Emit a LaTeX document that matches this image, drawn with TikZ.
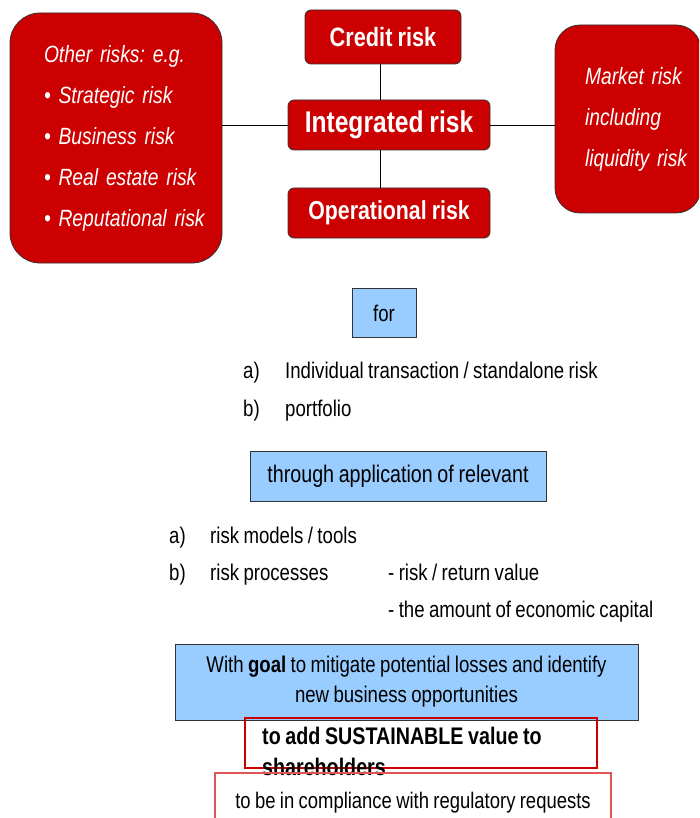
\documentclass[tikz,border=0pt]{standalone}
\usepackage{fontspec}
\setmainfont[FakeStretch=0.82, WordSpace=0.85]{Liberation Sans}
\definecolor{riskred}{HTML}{CC0000}
\definecolor{goalblue}{HTML}{99CCFF}
\definecolor{paleline}{HTML}{E05555}
\newcommand{\riskitalic}{\itshape\fontsize{23.5}{41}\selectfont\spaceskip 4.5pt\relax}
\frenchspacing
\begin{document}
\begin{tikzpicture}[x=1pt, y=-1pt]
    \tikzstyle{riskbox}=[rectangle, rounded corners=6pt, fill=riskred, draw=black!80, line width=0.8pt, text=white, font=\bfseries\fontsize{26}{30}\selectfont]
    \tikzstyle{bigbox}=[riskbox, rounded corners=30pt, align=left, font=\riskitalic]
    \tikzstyle{bluebox}=[rectangle, fill=goalblue, draw=black!80, line width=0.8pt, font=\fontsize{22.7}{30}\selectfont]
    \tikzstyle{item}=[anchor=base west, inner sep=0pt, font=\fontsize{22.7}{26}\selectfont]
    \useasboundingbox (0,0) rectangle (699,818);
    \clip (0,0) rectangle (699,818);
    % risk boxes
    \node[riskbox, minimum width=156, minimum height=54, font=\bfseries\fontsize{26.5}{30}\selectfont] (credit) at (383,37) {Credit risk};
    \node[riskbox, minimum width=202, minimum height=50, font=\bfseries\fontsize{30}{34}\selectfont] (integrated) at (389,125) {Integrated risk};
    \node[riskbox, minimum width=202, minimum height=50] (operational) at (389,213) {Operational risk};
    \node[bigbox, minimum width=212, minimum height=250, text width=144] (other) at (116,138) {\mbox{Other risks: e.g.}\\ \mbox{• Strategic risk}\\ \mbox{• Business risk}\\ \mbox{• Real estate risk}\\ \mbox{• Reputational risk}};
    \node[bigbox, rounded corners=25pt, minimum width=146, minimum height=188, text width=86] (market) at (628,119) {\mbox{Market risk}\\ \mbox{including}\\ \mbox{liquidity risk}};
    \coordinate (stem) at (380,0);
    \draw (stem |- credit.south) -- (stem |- integrated.north);
    \draw (stem |- integrated.south) -- (stem |- operational.north);
    \draw (other.east |- integrated.west) -- (integrated.west);
    \draw (integrated.east) -- (market.west |- integrated.east);
    % for
    \node[bluebox, minimum width=64, minimum height=49] (for) at (384,313) {for};
    \node[item] (fora) at (243,378) {a)};
    \node[item] (foratext) at (285,378) {Individual transaction / standalone risk};
    \node[item] (forb) at (243,416) {b)};
    \node[item] (forbtext) at (285,416) {portfolio};
    % through
    \node[bluebox, minimum width=296, minimum height=50, font=\fontsize{24}{30}\selectfont] (through) at (398,476) {through application of relevant};
    \node[item] (thra) at (169,543) {a)};
    \node[item] (thratext) at (210,543) {risk models / tools};
    \node[item] (thrb) at (169,580) {b)};
    \node[item] (thrbtext) at (210,580) {risk processes};
    \node[item] (value) at (388,580) {- risk / return value};
    \node[item] (capital) at (388,617) {- the amount of economic capital};
    % goal
    \node[bluebox, minimum width=463, minimum height=76, align=center] (goal) at (406.5,682) {With \textbf{goal} to mitigate potential losses and identify\\ new business opportunities};
    \node[draw=riskred, line width=1.6pt, minimum width=352, minimum height=50] (sustainbox) at (421,743) {};
    \node[anchor=north west, align=left, inner sep=0pt, font=\bfseries\fontsize{24}{31}\selectfont] (sustain) at (262,727) {to add SUSTAINABLE value to\\ shareholders};
    \node[draw=paleline, line width=1.2pt, minimum width=396, minimum height=60, font=\fontsize{22.5}{26}\selectfont] (comply) at (413,803) {to be in compliance with regulatory requests};
\end{tikzpicture}
\end{document}
